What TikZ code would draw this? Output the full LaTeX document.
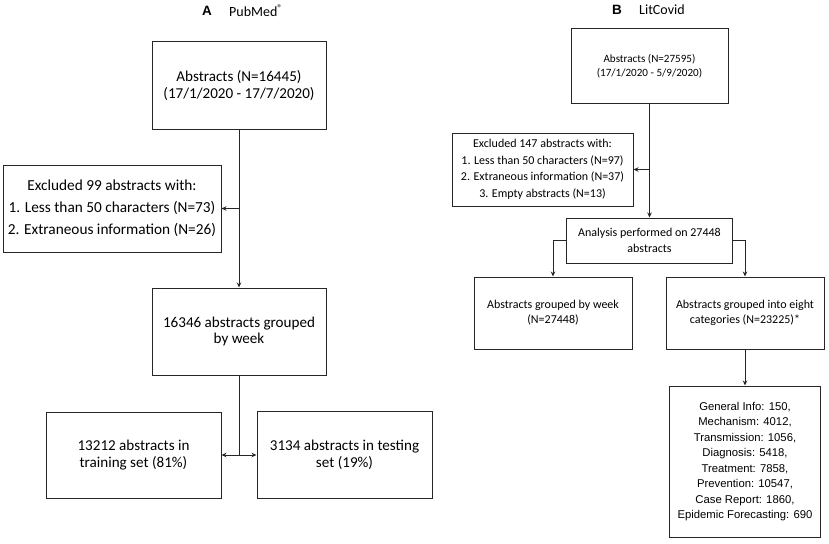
\documentclass[tikz,border=0pt]{standalone}
\usepackage{fontspec}
\setmainfont{Carlito}
\newfontfamily\arialf{Liberation Sans}
\usetikzlibrary{arrows.meta}
\begin{document}
\begin{tikzpicture}[x=1pt,y=-1pt,
  box/.style={draw=black!85,line width=1pt,align=center,inner sep=2pt,anchor=center},
  conn/.style={draw=black!85,line width=1pt},
  arr/.style={conn,-{Stealth[length=5pt,width=4.5pt]}},
  fA/.style={font=\fontsize{15.1}{16.5}\selectfont},
  fAx/.style={font=\fontsize{15.3}{22}\selectfont},
  fBt/.style={font=\fontsize{11.1}{14}\selectfont},
  fB/.style={font=\fontsize{12}{15.3}\selectfont},
  fBx/.style={font=\fontsize{12}{16.5}\selectfont},
  fC/.style={font=\arialf\fontsize{11.3}{15.5}\selectfont},
  ttl/.style={font=\arialf\bfseries\fontsize{13.5}{16}\selectfont,inner sep=0pt},
  ttn/.style={font=\fontsize{14}{16}\selectfont,inner sep=0pt,anchor=west}
]
\path[use as bounding box] (0,0) rectangle (829,543);

% Titles
\node[ttl] (tA) at (207,10.5) {A};
\node[ttn] (tAn) at (229,10.5) {PubMed\textsuperscript{®}};
\node[ttl] (tB) at (617,10) {B};
\node[ttn] (tBn) at (639,10) {LitCovid};

% Panel A
\node[box,fA,minimum width=174pt,minimum height=87pt] (a1) at (239,85.5)
  {Abstracts (N=16445)\\(17/1/2020 - 17/7/2020)};
\node[box,fAx,minimum width=218pt,minimum height=87pt] (a2) at (112,208.5)
  {Excluded 99 abstracts with:\\1. Less than 50 characters (N=73)\\2. Extraneous information (N=26)};
\node[box,fA,minimum width=174pt,minimum height=87pt] (a3) at (239,331.5)
  {16346 abstracts grouped\\by week};
\node[box,fA,minimum width=175pt,minimum height=86pt] (a4) at (133.5,455)
  {13212 abstracts in\\training set (81\%)};
\node[box,fA,minimum width=175pt,minimum height=87pt] (a5) at (344.5,455)
  {3134 abstracts in testing\\set (19\%)};

\draw[arr] (a1.south) -- (a3.north);
\draw[arr] (a1.south |- a2.east) -- (a2.east);
\coordinate (ja) at (a3.south |- a4.east);
\draw[conn] (a3.south) -- (ja);
\draw[arr] (ja) -- (a4.east);
\draw[arr] (ja) -- (a5.west);

% Panel B
\node[box,fBt,minimum width=157pt,minimum height=74pt] (b1) at (649.5,66)
  {Abstracts (N=27595)\\(17/1/2020 - 5/9/2020)};
\node[box,fBx,minimum width=181pt,minimum height=73pt] (b2) at (542.5,169.5)
  {Excluded 147 abstracts with:\\1. Less than 50 characters (N=97)\\2. Extraneous information (N=37)\\3. Empty abstracts (N=13)};
\node[box,fB,minimum width=166pt,minimum height=45pt] (b3) at (649.5,240.5)
  {Analysis performed on 27448\\abstracts};
\node[box,fB,minimum width=158pt,minimum height=72pt] (b4) at (553,313)
  {Abstracts grouped by week\\(N=27448)};
\node[box,fB,minimum width=158pt,minimum height=72pt] (b5) at (745,313)
  {Abstracts grouped into eight\\categories (N=23225)*};
\node[box,fC,minimum width=151pt,minimum height=151pt] (b6) at (745,461.5)
  {General Info: 150,\\Mechanism: 4012,\\Transmission: 1056,\\Diagnosis: 5418,\\Treatment: 7858,\\Prevention: 10547,\\Case Report: 1860,\\Epidemic Forecasting: 690};

\draw[arr] (b1.south) -- (b3.north);
\draw[arr] (b1.south |- b2.east) -- (b2.east);
\draw[arr] (b3.west) -| (b4.north);
\draw[arr] (b3.east) -| (b5.north);
\draw[arr] (b5.south) -- (b6.north);
\end{tikzpicture}
\end{document}
